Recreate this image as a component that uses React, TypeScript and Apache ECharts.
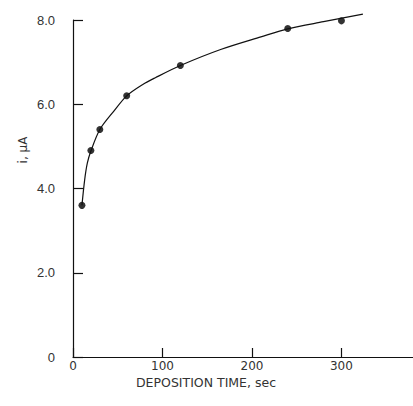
import React, { useEffect, useRef } from "react";
import * as echarts from "echarts";

// Measured points: deposition time (sec) vs peak current i (μA)
const timeSec = [10, 20, 30, 60, 120, 240, 300];
const currentUA = [3.6, 4.9, 5.4, 6.2, 6.92, 7.8, 7.98];

// Fitted curve, values
const curveTime = [10, 13, 16, 20, 30, 45, 60, 78, 92, 120, 165, 210, 240, 280, 324];
const curveCurrent = [3.6, 4.2, 4.6, 4.89, 5.4, 5.82, 6.2, 6.47, 6.63, 6.92, 7.3, 7.6, 7.79, 7.96, 8.14];

const xTickValues = [0, 100, 200, 300];
const yTickValues = [0, 2, 4, 6, 8];

const xTitle = "DEPOSITION TIME, sec";
const yTitle = "i, μA";

export default function App() {
  const ref = useRef<HTMLDivElement>(null);
  useEffect(() => {
    if (!ref.current) return;
    const chart = echarts.init(ref.current, null, { renderer: "svg" });
    const lineColor = "#111";
    const textColor = "#333";
    chart.setOption({
      animation: false,
      backgroundColor: "#fff",
      grid: { left: 73, top: 20, right: 0, bottom: 49, containLabel: false },
      xAxis: {
        type: "value",
        min: 0,
        max: 380,
        interval: 100,
        axisLine: { show: true, lineStyle: { color: lineColor, width: 1.2 } },
        axisTick: {
          show: true,
          inside: true,
          length: 9,
          customValues: xTickValues,
          lineStyle: { color: lineColor, width: 1.2 },
        },
        axisLabel: {
          customValues: xTickValues,
          margin: 3,
          color: textColor,
          fontFamily: "DejaVu Sans",
          fontSize: 12,
          formatter: (v: number) => String(v),
        },
        splitLine: { show: false },
      },
      yAxis: {
        type: "value",
        min: 0,
        max: 8,
        interval: 2,
        axisLine: { show: true, lineStyle: { color: lineColor, width: 1.2 } },
        axisTick: {
          show: true,
          inside: true,
          length: 10,
          customValues: yTickValues,
          lineStyle: { color: lineColor, width: 1.2 },
        },
        axisLabel: {
          customValues: yTickValues,
          margin: 18,
          color: textColor,
          fontFamily: "Liberation Sans",
          fontSize: 13,
          formatter: (v: number) => (v === 0 ? "0" : v.toFixed(1)),
        },
        splitLine: { show: false },
      },
      graphic: [
        {
          type: "text",
          x: 206,
          y: 382,
          style: {
            text: xTitle,
            fill: textColor,
            font: "12.5px 'DejaVu Sans'",
            align: "center",
            verticalAlign: "middle",
          },
        },
        {
          type: "text",
          x: 23,
          y: 150,
          rotation: Math.PI / 2,
          style: {
            text: yTitle,
            fill: textColor,
            font: "12px 'DejaVu Sans'",
            align: "center",
            verticalAlign: "middle",
          },
        },
      ],
      series: [
        {
          type: "line",
          data: curveTime.map((t, i) => [t, curveCurrent[i]]),
          smooth: 0.3,
          showSymbol: false,
          symbol: "none",
          clip: false,
          lineStyle: { color: lineColor, width: 1.2 },
          silent: true,
        },
        {
          type: "scatter",
          data: timeSec.map((t, i) => [t, currentUA[i]]),
          symbol: "circle",
          symbolSize: 7,
          clip: false,
          itemStyle: { color: "#000" },
        },
      ],
    });
    return () => chart.dispose();
  }, []);
  return (
    <div
      ref={ref}
      style={{ position: "fixed", left: 0, top: 0, width: 413, height: 406, background: "#fff" }}
    />
  );
}
